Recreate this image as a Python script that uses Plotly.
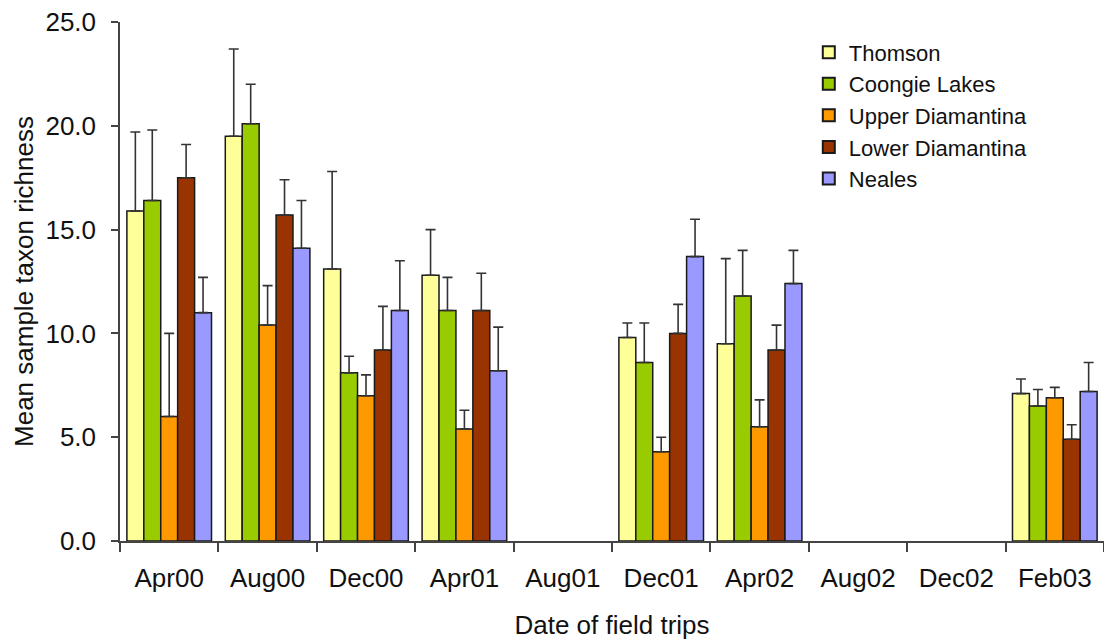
import plotly.graph_objects as go

categories = ["Apr00", "Aug00", "Dec00", "Apr01", "Aug01", "Dec01", "Apr02", "Aug02", "Dec02", "Feb03"]
series_names = ["Thomson", "Coongie Lakes", "Upper Diamantina", "Lower Diamantina", "Neales"]
colors = ["#FFFF99", "#99CC00", "#FF9900", "#993300", "#9999FF"]

thomson = [15.9, 19.5, 13.1, 12.8, None, 9.8, 9.5, None, None, 7.1]
coongie = [16.4, 20.1, 8.1, 11.1, None, 8.6, 11.8, None, None, 6.5]
upper = [6.0, 10.4, 7.0, 5.4, None, 4.3, 5.5, None, None, 6.9]
lower = [17.5, 15.7, 9.2, 11.1, None, 10.0, 9.2, None, None, 4.9]
neales = [11.0, 14.1, 11.1, 8.2, None, 13.7, 12.4, None, None, 7.2]

thomson_err = [3.8, 4.2, 4.7, 2.2, None, 0.7, 4.1, None, None, 0.7]
coongie_err = [3.4, 1.9, 0.8, 1.6, None, 1.9, 2.2, None, None, 0.8]
upper_err = [4.0, 1.9, 1.0, 0.9, None, 0.7, 1.3, None, None, 0.5]
lower_err = [1.6, 1.7, 2.1, 1.8, None, 1.4, 1.2, None, None, 0.7]
neales_err = [1.7, 2.3, 2.4, 2.1, None, 1.8, 1.6, None, None, 1.4]

values = [thomson, coongie, upper, lower, neales]
errors = [thomson_err, coongie_err, upper_err, lower_err, neales_err]

y_ticks = [0, 5, 10, 15, 20, 25]
y_tick_labels = ["0.0", "5.0", "10.0", "15.0", "20.0", "25.0"]

FONT = "Liberation Sans, Arial, sans-serif"
TXT = "#111111"

fig = go.Figure()
for name, col, vals, errs in zip(series_names, colors, values, errors):
    fig.add_trace(go.Bar(
        name=name, x=categories, y=vals,
        marker=dict(color=col, line=dict(color="#1a1a1a", width=1.5)),
        error_y=dict(type="data", array=[e if e is not None else 0 for e in errs],
                     arrayminus=[0]*len(errs), symmetric=False,
                     color="#333333", thickness=1.6, width=5, visible=True),
    ))

fig.update_layout(
    width=1104, height=641,
    barmode="group", bargap=0.14, bargroupgap=0,
    plot_bgcolor="white", paper_bgcolor="white",
    margin=dict(l=120, r=0, t=22, b=100),
    font=dict(family=FONT, size=26, color=TXT),
    showlegend=True,
    legend=dict(x=0.7, y=0.982, xanchor="left", yanchor="top",
                font=dict(size=22, family=FONT, color=TXT),
                bgcolor="rgba(0,0,0,0)", tracegroupgap=0, itemsizing="constant"),
    xaxis=dict(
        range=[-0.5, 9.5], type="category",
        showline=True, linecolor="#444444", linewidth=1.5,
        ticks="outside", tickson="boundaries", ticklen=9, tickcolor="#444444", tickwidth=1.5,
        tickfont=dict(size=26, family=FONT, color=TXT),
        ticklabelstandoff=13,
        title=dict(text="Date of field trips", font=dict(size=26, family=FONT, color=TXT), standoff=24),
        showgrid=False, zeroline=False,
    ),
    yaxis=dict(
        range=[0, 25], tickvals=y_ticks, ticktext=y_tick_labels,
        showline=True, linecolor="#444444", linewidth=1.5,
        ticks="outside", ticklen=7, tickcolor="#444444", tickwidth=1.5,
        tickfont=dict(size=26, family=FONT, color=TXT),
        ticklabelstandoff=10,
        title=dict(text="Mean sample taxon richness", font=dict(size=26, family=FONT, color=TXT), standoff=4),
        showgrid=False, zeroline=False,
    ),
)

fig.write_html("out.html")
